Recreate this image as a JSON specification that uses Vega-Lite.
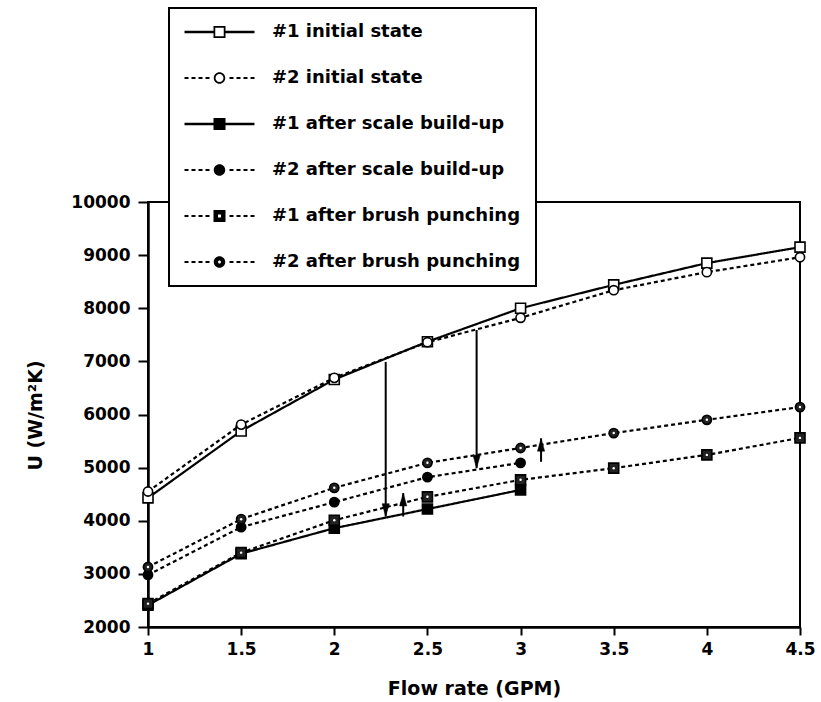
{
  "$schema": "https://vega.github.io/schema/vega-lite/v6.json",
  "width": 652,
  "height": 425,
  "autosize": {"type": "none"},
  "padding": {"left": 148, "top": 202, "right": 21, "bottom": 75},
  "background": "white",
  "config": {
    "view": {"stroke": "black", "strokeWidth": 2},
    "axis": {
      "grid": false,
      "domainColor": "black",
      "domainWidth": 2.5,
      "tickColor": "black",
      "tickWidth": 2,
      "labelFont": "DejaVu Sans",
      "labelFontWeight": "bold",
      "labelFontSize": 17,
      "labelColor": "black",
      "labelFlush": false,
      "labelOverlap": false,
      "titleFont": "DejaVu Sans",
      "titleFontWeight": "bold",
      "titleFontSize": 19,
      "titleColor": "black"
    },
    "legend": {
      "orient": "none", "legendX": 21, "legendY": -194,
      "padding": 15, "strokeColor": "black", "strokeWidth": 2, "fillColor": "white",
      "labelFont": "DejaVu Sans", "labelFontSize": 18, "labelFontWeight": "bold", "labelColor": "black", "labelLimit": 500,
      "labelOffset": 43.5, "symbolOffset": 26.5, "symbolSize": 100, "symbolStrokeWidth": 0, "symbolFillColor": "black", "symbolOpacity": 1, "rowPadding": 28
    }
  },
  "datasets": {
    "series": [
      {"series": "#1 initial state", "x": 1, "u": 4430},
      {"series": "#1 initial state", "x": 1.5, "u": 5690},
      {"series": "#1 initial state", "x": 2, "u": 6660},
      {"series": "#1 initial state", "x": 2.5, "u": 7370},
      {"series": "#1 initial state", "x": 3, "u": 8000},
      {"series": "#1 initial state", "x": 3.5, "u": 8440},
      {"series": "#1 initial state", "x": 4, "u": 8850},
      {"series": "#1 initial state", "x": 4.5, "u": 9150},
      {"series": "#2 initial state", "x": 1, "u": 4550},
      {"series": "#2 initial state", "x": 1.5, "u": 5810},
      {"series": "#2 initial state", "x": 2, "u": 6690},
      {"series": "#2 initial state", "x": 2.5, "u": 7360},
      {"series": "#2 initial state", "x": 3, "u": 7820},
      {"series": "#2 initial state", "x": 3.5, "u": 8340},
      {"series": "#2 initial state", "x": 4, "u": 8680},
      {"series": "#2 initial state", "x": 4.5, "u": 8960},
      {"series": "#1 after scale build-up", "x": 1, "u": 2410},
      {"series": "#1 after scale build-up", "x": 1.5, "u": 3380},
      {"series": "#1 after scale build-up", "x": 2, "u": 3860},
      {"series": "#1 after scale build-up", "x": 2.5, "u": 4220},
      {"series": "#1 after scale build-up", "x": 3, "u": 4580},
      {"series": "#2 after scale build-up", "x": 1, "u": 2980},
      {"series": "#2 after scale build-up", "x": 1.5, "u": 3880},
      {"series": "#2 after scale build-up", "x": 2, "u": 4350},
      {"series": "#2 after scale build-up", "x": 2.5, "u": 4820},
      {"series": "#2 after scale build-up", "x": 3, "u": 5090},
      {"series": "#1 after brush punching", "x": 1, "u": 2440},
      {"series": "#1 after brush punching", "x": 1.5, "u": 3400},
      {"series": "#1 after brush punching", "x": 2, "u": 4010},
      {"series": "#1 after brush punching", "x": 2.5, "u": 4450},
      {"series": "#1 after brush punching", "x": 3, "u": 4770},
      {"series": "#1 after brush punching", "x": 3.5, "u": 4990},
      {"series": "#1 after brush punching", "x": 4, "u": 5240},
      {"series": "#1 after brush punching", "x": 4.5, "u": 5560},
      {"series": "#2 after brush punching", "x": 1, "u": 3130},
      {"series": "#2 after brush punching", "x": 1.5, "u": 4030},
      {"series": "#2 after brush punching", "x": 2, "u": 4620},
      {"series": "#2 after brush punching", "x": 2.5, "u": 5090},
      {"series": "#2 after brush punching", "x": 3, "u": 5370},
      {"series": "#2 after brush punching", "x": 3.5, "u": 5650},
      {"series": "#2 after brush punching", "x": 4, "u": 5900},
      {"series": "#2 after brush punching", "x": 4.5, "u": 6140}
    ],
    "arrows": [
      {"x": 2.276, "from": 6990, "to": 4080, "dir": "down"},
      {"x": 2.764, "from": 7590, "to": 4990, "dir": "down"},
      {"x": 2.37, "from": 4080, "to": 4520, "dir": "up"},
      {"x": 3.11, "from": 5110, "to": 5550, "dir": "up"}
    ]
  },
  "layer": [
    {
      "data": {"name": "series"},
      "mark": {"type": "line", "stroke": "black", "strokeWidth": 2.2},
      "encoding": {
        "x": {"field": "x", "type": "quantitative", "scale": {"domain": [1, 4.5], "nice": false, "zero": false},
          "axis": {"title": "Flow rate (GPM)", "values": [1, 1.5, 2, 2.5, 3, 3.5, 4, 4.5], "format": ".1~f", "tickSize": 8, "labelPadding": 6, "titleY": 67, "titleBaseline": "alphabetic"}},
        "y": {"field": "u", "type": "quantitative", "scale": {"domain": [2000, 10000], "nice": false, "zero": false},
          "axis": {"title": "U (W/m²K)", "values": [2000, 3000, 4000, 5000, 6000, 7000, 8000, 9000, 10000], "format": "d", "tickSize": 10, "labelPadding": 8, "titleX": -107, "titleY": 213, "titleAngle": -90, "titleAlign": "center", "titleBaseline": "alphabetic"}},
        "detail": {"field": "series", "type": "nominal"},
        "strokeDash": {"field": "series", "type": "nominal", "legend": null,
          "scale": {"domain": ["#2 initial state", "#1 initial state", "#2 after scale build-up", "#1 after scale build-up", "#1 after brush punching", "#2 after brush punching"],
            "range": [[4, 3], [1, 0], [4, 3], [1, 0], [4, 3], [4, 3]]}}
      }
    },
    {
      "data": {"name": "arrows"},
      "mark": {"type": "rule", "stroke": "black", "strokeWidth": 2},
      "encoding": {
        "x": {"field": "x", "type": "quantitative", "scale": {"domain": [1, 4.5], "nice": false, "zero": false}},
        "y": {"field": "from", "type": "quantitative", "scale": {"domain": [2000, 10000], "nice": false, "zero": false}},
        "y2": {"field": "to"}
      }
    },
    {
      "data": {"name": "arrows"},
      "transform": [{"filter": "datum.dir === 'down'"}],
      "mark": {"type": "point", "shape": "M-0.9,-3.2L0.9,-3.2L0,0Z", "size": 64, "filled": true, "fill": "black", "stroke": "black", "strokeWidth": 0.5, "opacity": 1},
      "encoding": {
        "x": {"field": "x", "type": "quantitative", "scale": {"domain": [1, 4.5], "nice": false, "zero": false}},
        "y": {"field": "to", "type": "quantitative", "scale": {"domain": [2000, 10000], "nice": false, "zero": false}}
      }
    },
    {
      "data": {"name": "arrows"},
      "transform": [{"filter": "datum.dir === 'up'"}],
      "mark": {"type": "point", "shape": "M-0.9,3.2L0.9,3.2L0,0Z", "size": 64, "filled": true, "fill": "black", "stroke": "black", "strokeWidth": 0.5, "opacity": 1},
      "encoding": {
        "x": {"field": "x", "type": "quantitative", "scale": {"domain": [1, 4.5], "nice": false, "zero": false}},
        "y": {"field": "to", "type": "quantitative", "scale": {"domain": [2000, 10000], "nice": false, "zero": false}}
      }
    },
    {
      "data": {"name": "series"},
      "mark": {"type": "point", "filled": true, "fill": "black", "color": "black", "size": 95, "opacity": 0},
      "encoding": {
        "x": {"field": "x", "type": "quantitative", "scale": {"domain": [1, 4.5], "nice": false, "zero": false}},
        "y": {"field": "u", "type": "quantitative", "scale": {"domain": [2000, 10000], "nice": false, "zero": false}},
        "shape": {"field": "series", "type": "nominal", "title": null,
          "scale": {"domain": ["#1 initial state", "#2 initial state", "#1 after scale build-up", "#2 after scale build-up", "#1 after brush punching", "#2 after brush punching"],
            "range": [
              "M-7,-0.24H-1.2V0.24H-7ZM1.2,-0.24H7V0.24H1.2ZM-1.2,-1.2H1.2V1.2H-1.2ZM-0.85,-0.85V0.85H0.85V-0.85Z",
              "M-7,-0.2H-6.2V0.2H-7ZM-5.6,-0.2H-4.8V0.2H-5.6ZM-4.2,-0.2H-3.4V0.2H-4.2ZM-2.8,-0.2H-2V0.2H-2.8ZM2,-0.2H2.8V0.2H2ZM3.4,-0.2H4.2V0.2H3.4ZM4.8,-0.2H5.6V0.2H4.8ZM6.2,-0.2H7V0.2H6.2ZM-1.15,0A1.15,1.15,0,1,1,1.15,0A1.15,1.15,0,1,1,-1.15,0ZM-0.8,0A0.8,0.8,0,1,0,0.8,0A0.8,0.8,0,1,0,-0.8,0Z",
              "M-7,-0.24H-1.2V0.24H-7ZM1.2,-0.24H7V0.24H1.2ZM-1.2,-1.2H1.2V1.2H-1.2Z",
              "M-7,-0.2H-6.2V0.2H-7ZM-5.6,-0.2H-4.8V0.2H-5.6ZM-4.2,-0.2H-3.4V0.2H-4.2ZM-2.8,-0.2H-2V0.2H-2.8ZM2,-0.2H2.8V0.2H2ZM3.4,-0.2H4.2V0.2H3.4ZM4.8,-0.2H5.6V0.2H4.8ZM6.2,-0.2H7V0.2H6.2ZM-1.15,0A1.15,1.15,0,1,1,1.15,0A1.15,1.15,0,1,1,-1.15,0Z",
              "M-7,-0.2H-6.2V0.2H-7ZM-5.6,-0.2H-4.8V0.2H-5.6ZM-4.2,-0.2H-3.4V0.2H-4.2ZM-2.8,-0.2H-2V0.2H-2.8ZM2,-0.2H2.8V0.2H2ZM3.4,-0.2H4.2V0.2H3.4ZM4.8,-0.2H5.6V0.2H4.8ZM6.2,-0.2H7V0.2H6.2ZM-1.2,-1.2H1.2V1.2H-1.2ZM-0.3,-0.3V0.3H0.3V-0.3Z",
              "M-7,-0.2H-6.2V0.2H-7ZM-5.6,-0.2H-4.8V0.2H-5.6ZM-4.2,-0.2H-3.4V0.2H-4.2ZM-2.8,-0.2H-2V0.2H-2.8ZM2,-0.2H2.8V0.2H2ZM3.4,-0.2H4.2V0.2H3.4ZM4.8,-0.2H5.6V0.2H4.8ZM6.2,-0.2H7V0.2H6.2ZM-1.15,0A1.15,1.15,0,1,1,1.15,0A1.15,1.15,0,1,1,-1.15,0ZM-0.3,0A0.3,0.3,0,1,0,0.3,0A0.3,0.3,0,1,0,-0.3,0Z"
            ]},
          "legend": {"title": null, "symbolOpacity": 1, "symbolStrokeWidth": 0, "symbolFillColor": "black"}
        }
      }
    },
    {
      "data": {"name": "series"},
      "transform": [{"filter": "indexof(datum.series, '#1') === 0"}],
      "mark": {"type": "point", "shape": "square", "filled": true, "stroke": "black", "strokeWidth": 1.6, "size": 100, "opacity": 1},
      "encoding": {
        "x": {"field": "x", "type": "quantitative", "scale": {"domain": [1, 4.5], "nice": false, "zero": false}},
        "y": {"field": "u", "type": "quantitative", "scale": {"domain": [2000, 10000], "nice": false, "zero": false}},
        "fill": {"field": "series", "type": "nominal", "legend": null,
          "scale": {"domain": ["#2 initial state", "#1 initial state", "#2 after scale build-up", "#1 after scale build-up", "#2 after brush punching", "#1 after brush punching"],
            "range": ["white", "white", "black", "black", "#222222", "#222222"]}}
      }
    },
    {
      "data": {"name": "series"},
      "transform": [{"filter": "indexof(datum.series, '#2') === 0"}],
      "mark": {"type": "point", "shape": "circle", "filled": true, "stroke": "black", "strokeWidth": 1.6, "size": 85, "opacity": 1},
      "encoding": {
        "x": {"field": "x", "type": "quantitative", "scale": {"domain": [1, 4.5], "nice": false, "zero": false}},
        "y": {"field": "u", "type": "quantitative", "scale": {"domain": [2000, 10000], "nice": false, "zero": false}},
        "fill": {"field": "series", "type": "nominal", "legend": null,
          "scale": {"domain": ["#2 initial state", "#1 initial state", "#2 after scale build-up", "#1 after scale build-up", "#2 after brush punching", "#1 after brush punching"],
            "range": ["white", "white", "black", "black", "#222222", "#222222"]}}
      }
    },
    {
      "data": {"name": "series"},
      "transform": [{"filter": "indexof(datum.series, 'brush') >= 0"}],
      "mark": {"type": "point", "filled": true, "fill": "white", "strokeWidth": 0, "size": 6, "opacity": 1},
      "encoding": {
        "x": {"field": "x", "type": "quantitative", "scale": {"domain": [1, 4.5], "nice": false, "zero": false}},
        "y": {"field": "u", "type": "quantitative", "scale": {"domain": [2000, 10000], "nice": false, "zero": false}}
      }
    }
  ]
}
